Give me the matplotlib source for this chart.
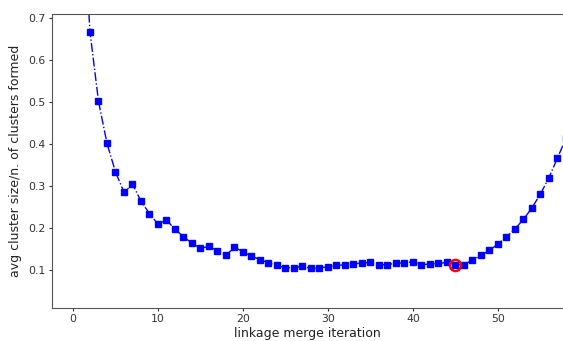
import matplotlib
matplotlib.use("Agg")
import matplotlib.pyplot as plt

# merge iteration index and the corresponding ratio
iterations = list(range(1, 59))
ratio = [
    1.0, 0.667, 0.502, 0.402, 0.334, 0.286, 0.305, 0.265, 0.235, 0.210,
    0.220, 0.198, 0.180, 0.165, 0.153, 0.157, 0.147, 0.136, 0.155, 0.1445,
    0.134, 0.126, 0.118, 0.112, 0.1063, 0.107, 0.1095, 0.1048, 0.106, 0.1088,
    0.112, 0.1135, 0.116, 0.1175, 0.119, 0.1135, 0.114, 0.1175, 0.118, 0.1207,
    0.114, 0.115, 0.1167, 0.119, 0.1135, 0.114, 0.125, 0.136, 0.148, 0.1627,
    0.180, 0.199, 0.2214, 0.249, 0.282, 0.3207, 0.3674, 0.414,
]
best_iter = 45
best_val = ratio[iterations.index(best_iter)]

fig = plt.figure(figsize=(5.63, 3.41), dpi=100)
ax = fig.add_axes([52 / 563, 33.5 / 341, 1 - 52 / 563, 293.5 / 341])

ax.plot(iterations, ratio, linestyle="-.", color="blue", linewidth=1.0,
        marker="s", markersize=4.2, markerfacecolor="blue", markeredgecolor="blue")
ax.plot([best_iter], [best_val], marker="o", markersize=8, markerfacecolor="none",
        markeredgecolor="red", markeredgewidth=1.8, linestyle="none")

ax.set_xlim(-2.47, 57.65)
ax.set_ylim(0.012, 0.7095)
ax.set_xticks([0, 10, 20, 30, 40, 50])
ax.set_yticks([0.1, 0.2, 0.3, 0.4, 0.5, 0.6, 0.7])
ax.tick_params(labelsize=7.8, colors="#333333", length=2.5, width=0.8, pad=2.5)
ax.set_xlabel("linkage merge iteration", fontsize=9, color="#222222", labelpad=2)
ax.set_ylabel("avg cluster size/n. of clusters formed", fontsize=9, color="#222222",
              labelpad=4)
for side in ("left", "top", "bottom"):
    ax.spines[side].set_color("#555555")
ax.spines["right"].set_visible(False)

fig.savefig("out.png", dpi=100)
